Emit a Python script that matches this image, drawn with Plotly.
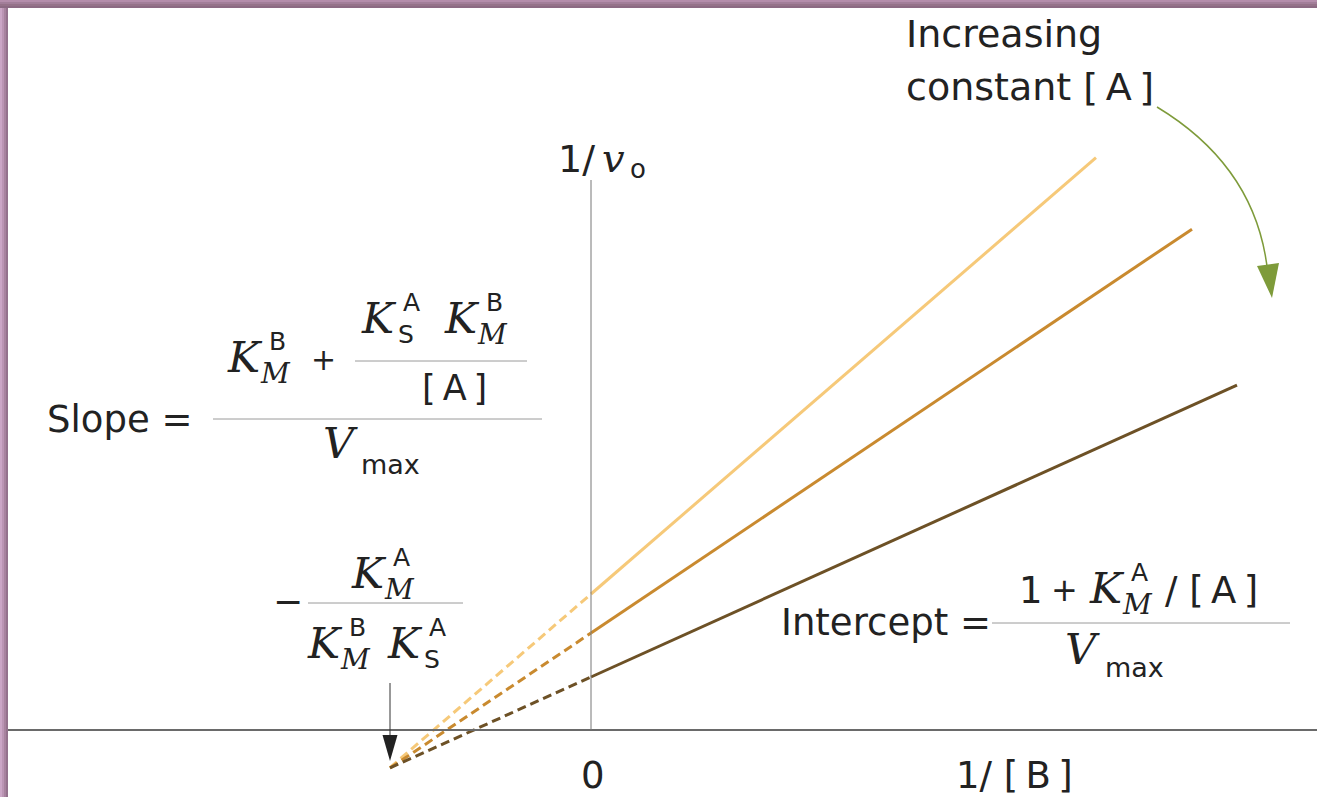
import plotly.graph_objects as go

# Lineweaver-Burk plot for a sequential bisubstrate reaction:
# 1/v0 against 1/[B] at three fixed concentrations of A.
W, H = 1317, 797

x_conv = -2.01                       # 1/[B] where the lines meet
intercepts = [1.36, 0.97, 0.53]      # 1/v0 at 1/[B] = 0
slopes = [0.864, 0.672, 0.452]       # d(1/v0)/d(1/[B])
x_end = [5.05, 6.01, 6.46]           # last measured 1/[B]
line_colors = ["#F6C979", "#C98A2F", "#6D5126"]

SANS = "DejaVu Sans"
SERIF = "DejaVu Serif"
INK = "#222222"
TS = "\u2009"  # thin space inside brackets

fig = go.Figure()

for b, m, xe, c in zip(intercepts, slopes, x_end, line_colors):
    # extrapolated part (dashed) back to the common intersection
    fig.add_trace(go.Scatter(
        x=[x_conv, 0], y=[b + m * x_conv, b], mode="lines",
        line=dict(color=c, width=3, dash="9px,5px"), hoverinfo="skip"))
    # measured range (solid)
    fig.add_trace(go.Scatter(
        x=[0, xe], y=[b, b + m * xe], mode="lines",
        line=dict(color=c, width=3), hoverinfo="skip"))


def px(x):
    return x / W


def py(y):
    return 1 - y / H


shapes = []

# frame band along the top and left edges
top_cols = ["#b48dab", "#a27e99", "#957289", "#8c6a83"]
for i, col in enumerate(top_cols):
    shapes.append(dict(type="rect", xref="paper", yref="paper",
                       x0=0, x1=1, y0=py(2 * i + 2), y1=py(2 * i),
                       fillcolor=col, line=dict(width=0), layer="above"))
left_cols = ["#cba6c6", "#bb95b4", "#a8839f", "#94728d"]
for i, col in enumerate(left_cols):
    shapes.append(dict(type="rect", xref="paper", yref="paper",
                       x0=px(2 * i), x1=px(2 * i + 2), y0=0, y1=py(8),
                       fillcolor=col, line=dict(width=0), layer="above"))

# axes
shapes.append(dict(type="line", xref="paper", yref="y", x0=px(8), x1=1,
                   y0=0, y1=0, line=dict(color="#6a6a6a", width=2)))
shapes.append(dict(type="line", xref="x", yref="y", x0=0, x1=0,
                   y0=0, y1=5.5, line=dict(color="#777777", width=1)))

# arrow marking the intersection abscissa
shapes.append(dict(type="line", xref="x", yref="y", x0=x_conv, x1=x_conv,
                   y0=0.47, y1=-0.12, line=dict(color="#333333", width=1)))
shapes.append(dict(type="path", xref="x", yref="y",
                   path=f"M{x_conv - 0.075},{-0.05} L{x_conv + 0.075},{-0.05} "
                        f"L{x_conv},{-0.31} Z",
                   fillcolor="#222222", line=dict(width=0)))

# fraction bars
for x0, x1, y in [(355, 527, 361), (213, 542, 419), (308, 463, 603), (992, 1290, 623)]:
    shapes.append(dict(type="line", xref="paper", yref="paper",
                       x0=px(x0), x1=px(x1), y0=py(y), y1=py(y),
                       line=dict(color="#9a9a9a", width=1)))

# curved arrow: increasing [A]
shapes.append(dict(type="path", xref="paper", yref="paper",
                   path=f"M{px(1157)},{py(107)} Q{px(1258)},{py(168)} {px(1268)},{py(275)}",
                   line=dict(color="#7E9B3A", width=1.5)))
shapes.append(dict(type="path", xref="paper", yref="paper",
                   path=f"M{px(1257)},{py(266)} L{px(1279)},{py(263)} L{px(1272)},{py(298)} Z",
                   fillcolor="#7E9B3A", line=dict(width=0)))

annotations = []


def txt(s, x, base, family, size):
    annotations.append(dict(
        xref="paper", yref="paper", x=px(x), y=py(base - 0.346 * size),
        xanchor="left", yanchor="middle", text=s, showarrow=False,
        borderpad=0, font=dict(family=family, size=size, color=INK)))


K = "<i>K</i>"
M = "<i>M</i>"
V = "<i>V</i>"
KS = 43   # size of the italic K and V
MS = 28   # size of the italic subscript M
SS = 25   # size of upright super/subscripts


def kterm(x, base, sup, sub, sub_italic):
    """K with a superscript and subscript stacked to its right."""
    txt(K, x, base, SERIF, KS)
    txt(sup, x + 42, base - 22, SANS, SS)
    if sub_italic:
        txt(M, x + 33, base + 11, SERIF, MS)
    else:
        txt(sub, x + 37, base + 10, SANS, SS)


txt("Increasing", 905, 47, SANS, 38)
txt(f"constant [{TS}A{TS}]", 905, 100, SANS, 38)

txt("1/", 557, 172, SANS, 38)
txt("<i>v</i>", 601, 172, SERIF, 40)
txt("o", 629, 178, SANS, 26)

# slope term
txt("Slope =", 46, 432, SANS, 37)
kterm(226, 372, "B", "M", True)
txt("+", 310, 370, SANS, 30)
kterm(360, 333, "A", "S", False)
kterm(443, 333, "B", "M", True)
txt(f"[{TS}A{TS}]", 421, 400, SANS, 35)
txt(V, 322, 458, SERIF, KS)
txt("max", 360, 474, SANS, 27)

# intersection abscissa
txt("\u2212", 272, 614, SANS, 36)
kterm(350, 588, "A", "M", True)
kterm(306, 658, "B", "M", True)
kterm(386, 658, "A", "S", False)

# intercept term
txt("Intercept =", 780, 635, SANS, 37)
txt("1", 1018, 603, SANS, 37)
txt("+", 1050, 601, SANS, 32)
kterm(1088, 603, "A", "M", True)
txt(f"/ [{TS}A{TS}]", 1164, 603, SANS, 37)
txt(V, 1064, 664, SERIF, KS)
txt("max", 1104, 677, SANS, 27)

# axis labels
txt("0", 580, 788, SANS, 37)
txt(f"1/ [{TS}B{TS}]", 955, 788, SANS, 37)

fig.update_layout(
    width=W, height=H, margin=dict(l=0, r=0, t=0, b=0),
    paper_bgcolor="white", plot_bgcolor="white", showlegend=False,
    xaxis=dict(range=[-5.91, 7.26], visible=False, fixedrange=True),
    yaxis=dict(range=[-0.67, 7.30], visible=False, fixedrange=True),
    shapes=shapes, annotations=annotations,
)

fig.write_html("out.html")
